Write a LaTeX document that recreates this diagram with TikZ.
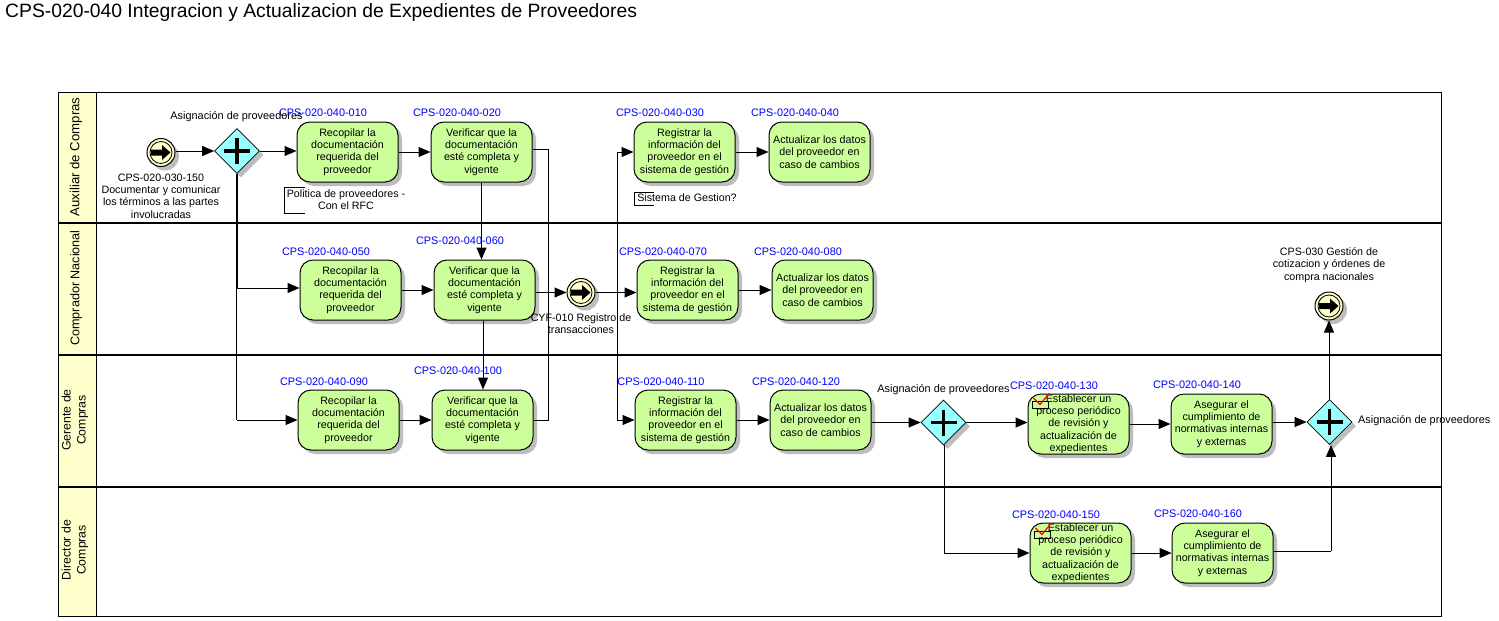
\documentclass[tikz,border=0pt]{standalone}
\usepackage{fontspec}
\setmainfont{Liberation Sans}
\usetikzlibrary{shapes.geometric,arrows.meta,shadows,calc}
\definecolor{taskfill}{HTML}{CCFF99}
\definecolor{gatefill}{HTML}{99FFFF}
\definecolor{lanefill}{HTML}{FFFFCC}
\definecolor{eventfill}{HTML}{FFFFCC}
\definecolor{codeblue}{HTML}{0000FF}
\definecolor{shadowgray}{HTML}{BDBDBD}
\newcommand{\bodyfont}{\fontsize{10.7}{12.3}\selectfont}
\newcommand{\codefont}{\fontsize{10.9}{12.3}\selectfont}
\tikzset{
  x=1pt,y=-1pt,
  softshadow/.style={drop shadow={shadow xshift=4pt,shadow yshift=-4pt,fill=shadowgray,opacity=1}},
  taskbox/.style={draw=black,line width=1pt,fill=taskfill,rounded corners=13pt,minimum width=101pt,minimum height=60pt,inner sep=0pt,align=center,font=\bodyfont,softshadow},
  gateway/.style={diamond,aspect=1,draw=black,line width=.7pt,fill=gatefill,minimum width=45pt,minimum height=45pt,inner sep=0pt,softshadow},
  eventring/.style={circle,draw=black,line width=1pt,fill=eventfill,minimum size=28pt,inner sep=0pt,softshadow},
  code/.style={font=\codefont,text=codeblue,inner sep=0pt},
  caption/.style={font=\bodyfont,align=center,inner sep=0pt},
  gatecaption/.style={font=\codefont,align=center,inner sep=0pt},
  flow/.style={draw=black,line width=1pt,-{Triangle[length=12pt,width=10pt]}},
  plainflow/.style={draw=black,line width=1pt},
  lanetitle/.style={align=center,rotate=90,inner sep=0pt},
}
\newcommand{\eventmark}[1]{%
  \draw[line width=.8pt] (#1.center) circle[radius=11];
  \fill[black] ([shift={(-10,-3)}]#1.center) -- ++(11,0) -- ++(0,-4.5) -- ++(8.5,7.5) -- ++(-8.5,7.5) -- ++(0,-4.5) -- ++(-11,0) -- cycle;}
\newcommand{\plusmark}[1]{%
  \draw[line width=3.4pt] ([yshift=13pt]#1.center) -- ([yshift=-13pt]#1.center);
  \draw[line width=3.4pt] ([xshift=-13pt]#1.center) -- ([xshift=13pt]#1.center);}
\newcommand{\toolmark}[2]{%
  \draw[line width=.7pt] (#1,#2) rectangle ++(16.5,7);
  \draw[red,line width=1.2pt] ($(#1,#2)+(1.5,-3)$) -- ++(6.5,6.5) -- ++(9,-11);}
\begin{document}
\begin{tikzpicture}
\useasboundingbox (0,0) rectangle (1499,621);
\fill[white] (0,0) rectangle (1499,621);

\node[anchor=west,inner sep=0pt,font=\fontsize{19.3}{21}\selectfont] (title) at (5,13) {CPS-020-040 Integracion y Actualizacion de Expedientes de Proveedores};

\fill[lanefill] (58,92) rectangle (96,616);
\draw[line width=1pt] (58,92) rectangle (1441,616);
\draw[line width=1pt] (96,92) -- (96,616);
\draw[line width=2pt] (58,222.5) -- (1441,222.5);
\draw[line width=2pt] (58,355) -- (1441,355);
\draw[line width=2pt] (58,486.5) -- (1441,486.5);
\node[lanetitle,font=\fontsize{13.2}{15}\selectfont] (lane1) at (76,157) {Auxiliar de Compras};
\node[lanetitle,font=\fontsize{12.6}{15}\selectfont] (lane2) at (76,288) {Comprador Nacional};
\node[lanetitle,font=\fontsize{12.3}{15}\selectfont] (lane3) at (75,420) {Gerente de\\Compras};
\node[lanetitle,font=\fontsize{12.3}{15}\selectfont] (lane4) at (75,550) {Director de\\Compras};

\node[taskbox] (t010) at (347.5,152) {Recopilar la\\documentación\\requerida del\\proveedor};
\node[taskbox] (t020) at (481.5,152) {Verificar que la\\documentación\\esté completa y\\vigente};
\node[taskbox] (t030) at (684.5,152) {Registrar la\\información del\\proveedor en el\\sistema de gestión};
\node[taskbox] (t040) at (819.5,152) {Actualizar los datos\\del proveedor en\\caso de cambios};
\node[taskbox] (t050) at (350.5,290) {Recopilar la\\documentación\\requerida del\\proveedor};
\node[taskbox] (t060) at (484.5,290) {Verificar que la\\documentación\\esté completa y\\vigente};
\node[taskbox] (t070) at (687.5,290) {Registrar la\\información del\\proveedor en el\\sistema de gestión};
\node[taskbox] (t080) at (822.5,290) {Actualizar los datos\\del proveedor en\\caso de cambios};
\node[taskbox] (t090) at (348.5,420) {Recopilar la\\documentación\\requerida del\\proveedor};
\node[taskbox] (t100) at (482.5,420) {Verificar que la\\documentación\\esté completa y\\vigente};
\node[taskbox] (t110) at (685.5,420) {Registrar la\\información del\\proveedor en el\\sistema de gestión};
\node[taskbox] (t120) at (820.5,420) {Actualizar los datos\\del proveedor en\\caso de cambios};
\node[taskbox] (t130) at (1078.5,424) {Establecer un\\proceso periódico\\de revisión y\\actualización de\\expedientes};
\node[taskbox] (t140) at (1221.5,424) {Asegurar el\\cumplimiento de\\normativas internas\\y externas};
\node[taskbox] (t150) at (1080.5,553) {Establecer un\\proceso periódico\\de revisión y\\actualización de\\expedientes};
\node[taskbox] (t160) at (1222.5,553) {Asegurar el\\cumplimiento de\\normativas internas\\y externas};
\toolmark{1032}{401}
\toolmark{1034}{531}

\node[code] (c010) at (323,113) {CPS-020-040-010};
\node[code] (c020) at (457,113) {CPS-020-040-020};
\node[code] (c030) at (660,113) {CPS-020-040-030};
\node[code] (c040) at (795,113) {CPS-020-040-040};
\node[code] (c050) at (326,251.5) {CPS-020-040-050};
\node[code] (c060) at (460,240.5) {CPS-020-040-060};
\node[code] (c070) at (663,251.5) {CPS-020-040-070};
\node[code] (c080) at (798,251.5) {CPS-020-040-080};
\node[code] (c090) at (324,382) {CPS-020-040-090};
\node[code] (c100) at (458,371) {CPS-020-040-100};
\node[code] (c110) at (661,382) {CPS-020-040-110};
\node[code] (c120) at (796,382) {CPS-020-040-120};
\node[code] (c130) at (1054,386) {CPS-020-040-130};
\node[code] (c140) at (1197,385) {CPS-020-040-140};
\node[code] (c150) at (1056,515) {CPS-020-040-150};
\node[code] (c160) at (1198,514) {CPS-020-040-160};

\node[gateway] (g1) at (237,151) {};
\node[gateway] (g2) at (943.5,422.5) {};
\node[gateway] (g3) at (1329.5,422) {};
\plusmark{g1}\plusmark{g2}\plusmark{g3}
\node[eventring] (e1) at (161,152.5) {};
\node[eventring] (e2) at (581,292.5) {};
\node[eventring] (e3) at (1329,306) {};
\eventmark{e1}\eventmark{e2}\eventmark{e3}

\node[gatecaption] (lg1) at (236.5,117) {Asignación de proveedores};
\node[gatecaption] (lg2) at (943.5,389.5) {Asignación de proveedores};
\node[gatecaption,anchor=west] (lg3) at (1358,421) {Asignación de proveedores};
\node[caption] (le1) at (161,196) {CPS-020-030-150\\Documentar y comunicar\\los términos a las partes\\involucradas};
\node[caption] (le2) at (581,323.5) {CYF-010 Registro de\\transacciones};
\node[caption] (le3) at (1329,265) {CPS-030 Gestión de\\cotizacion y órdenes de\\compra nacionales};

\coordinate (a1t) at (305,187);\coordinate (a1tl) at (284,187);\coordinate (a1bl) at (284,213.5);\coordinate (a1b) at (305,213.5);
\draw[line width=.7pt] (a1t) -- (a1tl) -- (a1bl) -- (a1b);
\node[caption] (an1) at (346,199.5) {Politica de proveedores -\\Con el RFC};
\coordinate (a2t) at (654,192);\coordinate (a2tl) at (634.5,192);\coordinate (a2bl) at (634.5,205.5);\coordinate (a2b) at (654,205.5);
\draw[line width=.7pt] (a2t) -- (a2tl) -- (a2bl) -- (a2b);
\node[caption] (an2) at (687,198) {Sistema de Gestion?};

\draw[flow] (e1.east |- g1) -- (g1);
\draw[flow] (g1) -- (t010.west |- g1);
\draw[flow] (t010) -- (t020);
\coordinate (j1) at (236.5,288);
\draw[draw=black,line width=2pt] (g1.south -| j1) -- (j1);
\draw[flow] (j1) -- (t050.west |- j1);
\coordinate (j2) at (236.5,420);
\draw[plainflow] (j1) -- (j2);
\draw[flow] (j2) -- (t090.west);
\draw[flow] (t050) -- (t060);
\draw[flow] (t090) -- (t100);
\draw[flow] (t020.south) -- (t060.north -| t020.south);
\draw[flow] (t060.south -| 483,0) -- (t100.north -| 483,0);
\coordinate (r1) at (548,149);
\coordinate (r2) at (548,420);
\draw[plainflow] (t020.east |- r1) -- (r1) -- (r2) -- (t100.east);
\draw[flow] (t060.east |- e2) -- (e2);
\draw[flow] (e2) -- (t070.west |- e2);
\coordinate (v1) at (617,152);
\coordinate (v2) at (617,420);
\draw[plainflow] (v1) -- (v2);
\draw[flow] (v1) -- (t030.west);
\draw[flow] (v2) -- (t110.west);
\draw[flow] (t030) -- (t040);
\draw[flow] (t070) -- (t080);
\draw[flow] (t110) -- (t120);
\draw[flow] (t120.east |- g2) -- (g2);
\draw[flow] (g2) -- (t130.west |- g2);
\draw[flow] (t130) -- (t140);
\draw[flow] (t140.east |- g3) -- (g3);
\draw[flow] (g3.north -| e3) -- (e3);
\coordinate (b1) at (944,553);
\draw[plainflow] (g2.south -| b1) -- (b1);
\draw[flow] (b1) -- (t150.west);
\draw[flow] (t150) -- (t160);
\coordinate (b2) at (1331,551);
\draw[plainflow] (t160.east |- b2) -- (b2);
\draw[flow] (b2) -- (g3.south -| b2);
\end{tikzpicture}
\end{document}
